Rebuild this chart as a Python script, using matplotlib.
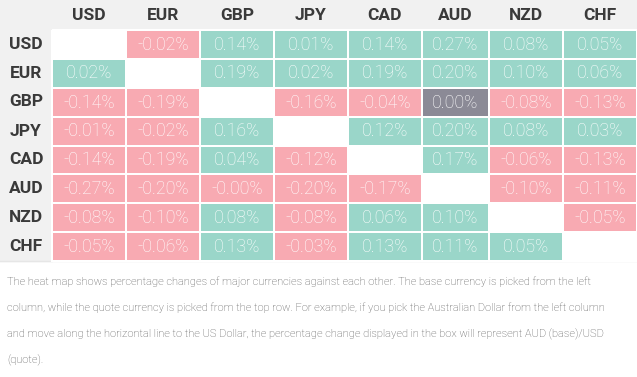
import numpy as np
import matplotlib
matplotlib.use("Agg")
import matplotlib.pyplot as plt
from matplotlib.colors import ListedColormap, BoundaryNorm

# currency heat map: rows are the base currency, columns the quote currency
currencies = ["USD", "EUR", "GBP", "JPY", "CAD", "AUD", "NZD", "CHF"]
nan = np.nan
changes = np.array([
    [nan, -0.02, 0.14, 0.01, 0.14, 0.27, 0.08, 0.05],
    [0.02, nan, 0.19, 0.02, 0.19, 0.20, 0.10, 0.06],
    [-0.14, -0.19, nan, -0.16, -0.04, 0.00, -0.08, -0.13],
    [-0.01, -0.02, 0.16, nan, 0.12, 0.20, 0.08, 0.03],
    [-0.14, -0.19, 0.04, -0.12, nan, 0.17, -0.06, -0.13],
    [-0.27, -0.20, -0.00, -0.20, -0.17, nan, -0.10, -0.11],
    [-0.08, -0.10, 0.08, -0.08, 0.06, 0.10, nan, -0.05],
    [-0.05, -0.06, 0.13, -0.03, 0.13, 0.11, 0.05, nan],
])
note = ("The heat map shows percentage changes of major currencies against each other. The base currency is picked from the left\n"
        "column, while the quote currency is picked from the top row. For example, if you pick the Australian Dollar from the left column\n"
        "and move along the horizontal line to the US Dollar, the percentage change displayed in the box will represent AUD (base)/USD\n"
        "(quote).")

# cell edges in pixels
x_edges = [52, 126, 200, 274, 348, 422, 489, 563, 637]
y_edges = [30, 58.5, 87.5, 116.5, 145.5, 174, 203, 232, 260.5]

# 0 = diagonal, 1 = up, 2 = down, 3 = unchanged
cat = np.where(np.isnan(changes), 0,
               np.where(changes > 0, 1,
                        np.where(np.signbit(changes), 2, 3)))
cmap = ListedColormap(["#ffffff", "#9ad6c9", "#f8aab2", "#8b8a96"])
norm = BoundaryNorm([-0.5, 0.5, 1.5, 2.5, 3.5], cmap.N)

fig = plt.figure(figsize=(6.37, 3.77), dpi=100)
ax = fig.add_axes([0, 0, 1, 1])
ax.set_xlim(0, 637)
ax.set_ylim(377, 0)
ax.axis("off")

# grey header band and left label column
ax.axhspan(0, 30, color="#f1f1f1", zorder=0)
ax.fill_between([0, 52], 0, 260.5, color="#f1f1f1", zorder=0)
ax.axhline(261, color="#e6e6e6", lw=1, zorder=0)

ax.pcolormesh(x_edges, y_edges, cat, cmap=cmap, norm=norm,
              edgecolors="white", linewidth=1.2, zorder=1)

xc = [(a + b) / 2 for a, b in zip(x_edges[:-1], x_edges[1:])]
yc = [(a + b) / 2 for a, b in zip(y_edges[:-1], y_edges[1:])]

for j, c in enumerate(currencies):
    ax.text(xc[j], 15, c, ha="center", va="center", fontsize=12.5,
            fontweight="bold", family="Roboto", color="#3a3a3a")
for i, c in enumerate(currencies):
    ax.text(26, yc[i], c, ha="center", va="center", fontsize=12.5,
            fontweight="bold", family="Roboto", color="#3a3a3a")

for i in range(len(currencies)):
    for j in range(len(currencies)):
        v = changes[i, j]
        if np.isnan(v):
            continue
        ax.text(xc[j], yc[i] + 0.5, f"{v:.2f}%", ha="center", va="center",
                fontsize=12.8, fontweight="light", family="Roboto", color="white", zorder=2)

for k, line in enumerate(note.split("\n")):
    ax.text(7, 281.5 + k * 26.2, line, ha="left", va="center", fontsize=8.05,
            fontweight="light", family="Roboto", color="#555555")

fig.savefig("out.png", dpi=100)
